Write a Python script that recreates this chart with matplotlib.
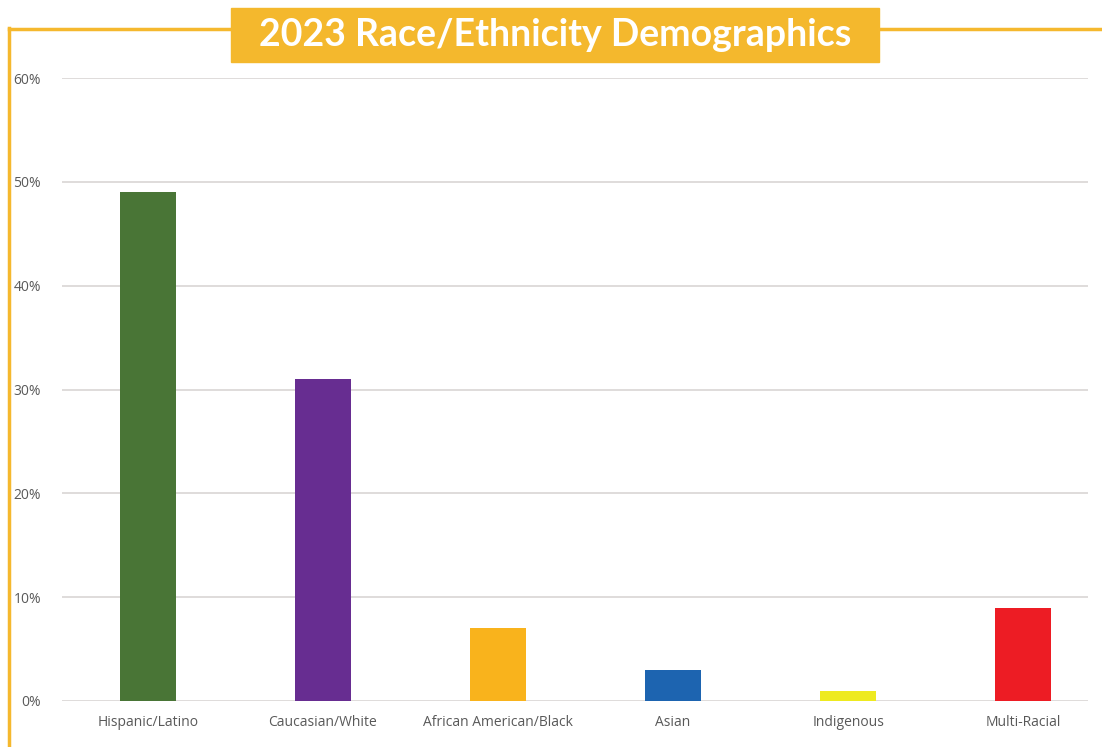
import matplotlib.pyplot as plt
import matplotlib.ticker as ticker
from matplotlib.patches import Rectangle
from matplotlib.lines import Line2D

categories = ["Hispanic/Latino", "Caucasian/White", "African American/Black",
              "Asian", "Indigenous", "Multi-Racial"]
values = [49, 31, 7, 3, 1, 9]
colors = ["#497536", "#672d91", "#f9b31c", "#1d64b0", "#eeea20", "#ed1c24"]
yticks = [0, 10, 20, 30, 40, 50, 60]
title = "2023 Race/Ethnicity Demographics"

W, H = 1102, 747
fig = plt.figure(figsize=(W / 100, H / 100), dpi=100)
gold = "#f5b82e"

# axes placed in pixel coords
left, right, bottom, top = 62, 1088, 701, 78
ax = fig.add_axes([left / W, 1 - bottom / H, (right - left) / W, (bottom - top) / H])
x = list(range(len(categories)))
ax.bar(x, values, width=0.32, color=colors, zorder=3)
ax.set_xlim(-0.49, 5.37)
ax.set_ylim(0, 60)
ax.set_yticks(yticks)
ax.yaxis.set_major_formatter(ticker.FuncFormatter(lambda v, p: "%d%%" % v))
ax.set_xticks(x)
ax.set_xticklabels(categories)
ax.tick_params(length=0, labelsize=10, labelcolor="#595959", pad=15)
ax.tick_params(axis="x", pad=10)
for lab in ax.get_xticklabels() + ax.get_yticklabels():
    lab.set_family("Open Sans")
ax.grid(axis="y", color="#d9d6d4", linewidth=1.2, zorder=0)
for s in ax.spines.values():
    s.set_visible(False)

# gold frame
fig.add_artist(Line2D([9 / W, 9 / W], [0, 1 - 28 / H], color=gold, lw=2.5, transform=fig.transFigure))
fig.add_artist(Line2D([9 / W, 231 / W], [1 - 29 / H, 1 - 29 / H], color=gold, lw=2.5, transform=fig.transFigure))
fig.add_artist(Line2D([879 / W, 1], [1 - 29 / H, 1 - 29 / H], color=gold, lw=2.5, transform=fig.transFigure))
fig.add_artist(Rectangle((231 / W, 1 - 62 / H), (879 - 231) / W, 54 / H,
                         color="#f4b82d", transform=fig.transFigure))
fig.text(555 / W, 1 - 35 / H, title, ha="center", va="center", color="white",
         fontsize=27, fontweight="bold", family="Lato")

fig.savefig("out.png", dpi=100)
